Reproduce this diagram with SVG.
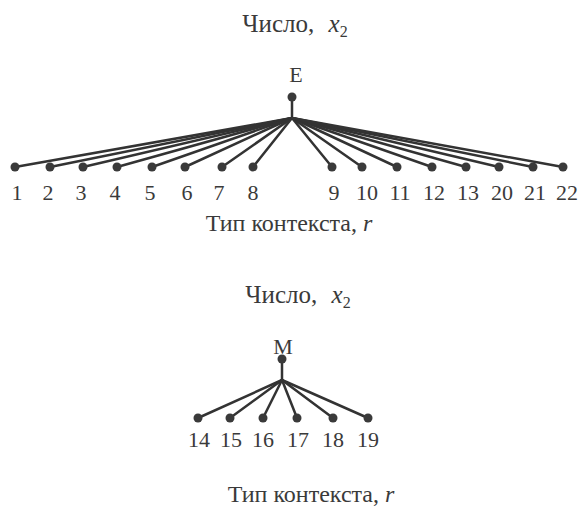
<svg xmlns="http://www.w3.org/2000/svg" width="581" height="508" viewBox="0 0 581 508">
<style>
text{font-family:"Liberation Serif","Times New Roman",serif;fill:#3a3a3a;font-size:22px;text-anchor:middle}
.t{font-size:24px}
.h{font-size:25px}
.it{font-style:italic}
.sub{font-size:16px}
.c line{stroke:#333;stroke-width:2.5;stroke-linecap:round}
.n circle{fill:#3a3a3a}
</style>
<rect width="581" height="508" fill="#fff"/>
<text class="h" x="295" y="32">Число, <tspan class="it" dx="8">x</tspan><tspan class="sub" dy="5">2</tspan></text>
<text class="t" x="289" y="231">Тип контекста, <tspan class="it">r</tspan></text>
<text class="h" x="298" y="303">Число, <tspan class="it" dx="8">x</tspan><tspan class="sub" dy="5">2</tspan></text>
<text class="t" x="311" y="502">Тип контекста, <tspan class="it">r</tspan></text>
<g class="c" id="connectors">
<line x1="292" y1="97" x2="292" y2="118"/>
<line x1="292" y1="118" x2="15" y2="167"/>
<line x1="292" y1="118" x2="50" y2="167"/>
<line x1="292" y1="118" x2="83" y2="167"/>
<line x1="292" y1="118" x2="117" y2="167"/>
<line x1="292" y1="118" x2="152" y2="167"/>
<line x1="292" y1="118" x2="185" y2="167"/>
<line x1="292" y1="118" x2="222" y2="167"/>
<line x1="292" y1="118" x2="253" y2="167"/>
<line x1="292" y1="118" x2="332" y2="167"/>
<line x1="292" y1="118" x2="362" y2="167"/>
<line x1="292" y1="118" x2="397" y2="167"/>
<line x1="292" y1="118" x2="432" y2="167"/>
<line x1="292" y1="118" x2="466" y2="167"/>
<line x1="292" y1="118" x2="499" y2="167"/>
<line x1="292" y1="118" x2="533" y2="167"/>
<line x1="292" y1="118" x2="563" y2="167"/>
<line x1="282" y1="359" x2="282" y2="380"/>
<line x1="282" y1="380" x2="198" y2="418"/>
<line x1="282" y1="380" x2="230" y2="418"/>
<line x1="282" y1="380" x2="263" y2="418"/>
<line x1="282" y1="380" x2="297" y2="418"/>
<line x1="282" y1="380" x2="333" y2="418"/>
<line x1="282" y1="380" x2="368" y2="418"/>
</g>
<g class="n" id="nE"><circle cx="292" cy="97" r="4.5"/><text x="296" y="82">E</text></g>
<g class="n" id="n1"><circle cx="15" cy="167" r="4.5"/><text x="17" y="200">1</text></g>
<g class="n" id="n2"><circle cx="50" cy="167" r="4.5"/><text x="48" y="200">2</text></g>
<g class="n" id="n3"><circle cx="83" cy="167" r="4.5"/><text x="81" y="200">3</text></g>
<g class="n" id="n4"><circle cx="117" cy="167" r="4.5"/><text x="115" y="200">4</text></g>
<g class="n" id="n5"><circle cx="152" cy="167" r="4.5"/><text x="150" y="200">5</text></g>
<g class="n" id="n6"><circle cx="185" cy="167" r="4.5"/><text x="187" y="200">6</text></g>
<g class="n" id="n7"><circle cx="222" cy="167" r="4.5"/><text x="219" y="200">7</text></g>
<g class="n" id="n8"><circle cx="253" cy="167" r="4.5"/><text x="253" y="200">8</text></g>
<g class="n" id="n9"><circle cx="332" cy="167" r="4.5"/><text x="334" y="200">9</text></g>
<g class="n" id="n10"><circle cx="362" cy="167" r="4.5"/><text x="367" y="200">10</text></g>
<g class="n" id="n11"><circle cx="397" cy="167" r="4.5"/><text x="400" y="200">11</text></g>
<g class="n" id="n12"><circle cx="432" cy="167" r="4.5"/><text x="434" y="200">12</text></g>
<g class="n" id="n13"><circle cx="466" cy="167" r="4.5"/><text x="468" y="200">13</text></g>
<g class="n" id="n20"><circle cx="499" cy="167" r="4.5"/><text x="502" y="200">20</text></g>
<g class="n" id="n21"><circle cx="533" cy="167" r="4.5"/><text x="535" y="200">21</text></g>
<g class="n" id="n22"><circle cx="563" cy="167" r="4.5"/><text x="567" y="200">22</text></g>
<g class="n" id="nM"><circle cx="282" cy="359" r="4.5"/><text x="283" y="354">M</text></g>
<g class="n" id="n14"><circle cx="198" cy="418" r="4.5"/><text x="199" y="447">14</text></g>
<g class="n" id="n15"><circle cx="230" cy="418" r="4.5"/><text x="231" y="447">15</text></g>
<g class="n" id="n16"><circle cx="263" cy="418" r="4.5"/><text x="263" y="447">16</text></g>
<g class="n" id="n17"><circle cx="297" cy="418" r="4.5"/><text x="298" y="447">17</text></g>
<g class="n" id="n18"><circle cx="333" cy="418" r="4.5"/><text x="333" y="447">18</text></g>
<g class="n" id="n19"><circle cx="368" cy="418" r="4.5"/><text x="368" y="447">19</text></g>
</svg>
